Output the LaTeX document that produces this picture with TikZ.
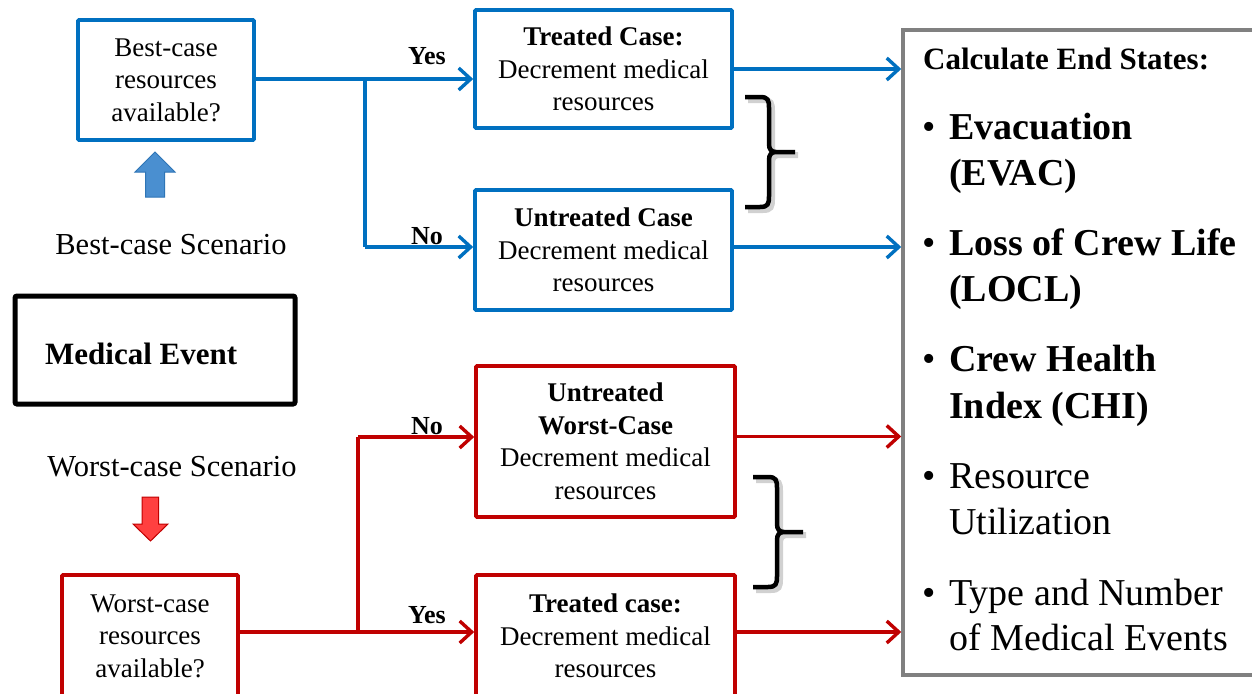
\documentclass[tikz,border=0pt]{standalone}
\usepackage{fontspec}
\setmainfont{Liberation Serif}
\usetikzlibrary{arrows.meta,calc}
\definecolor{cblue}{RGB}{0,112,192}
\definecolor{cred}{RGB}{192,0,0}
\definecolor{cgray}{RGB}{128,128,128}
\definecolor{afillb}{RGB}{74,143,208}
\definecolor{adrawb}{RGB}{46,117,182}
\definecolor{afillr}{RGB}{255,64,64}
\begin{document}
\begin{tikzpicture}[x=1pt,y=-1pt,
  boxtext/.style={font=\fontsize{27pt}{32.5pt}\selectfont, align=center, inner sep=0pt},
  bbox/.style={boxtext, draw=cblue, line width=3.6pt, rounded corners=1pt},
  rbox/.style={boxtext, draw=cred, line width=3.6pt, rounded corners=1pt},
  bline/.style={draw=cblue, line width=3.4pt},
  rline/.style={draw=cred, line width=3.4pt},
  tip/.style={-{Straight Barb[length=12pt,width=22pt]}},
  yn/.style={font=\bfseries\fontsize{26pt}{30pt}\selectfont, inner sep=0pt},
  scen/.style={font=\fontsize{30.5pt}{36pt}\selectfont, inner sep=0pt},
  itemline/.style={anchor=base west, inner sep=0pt, font=\fontsize{38pt}{46pt}\selectfont},
  itembold/.style={itemline, font=\bfseries\fontsize{38pt}{46pt}\selectfont},
  curly/.pic={
    \draw[line width=6pt, black!40, opacity=.45, shift={(3,3)}]
      (0,0) -- (15,0) .. controls (23,0) and (24,3) .. (24,11) -- (24,47)
      .. controls (24,52) and (26,55) .. (31,55) -- (50,55)
      (0,110) -- (15,110) .. controls (23,110) and (24,107) .. (24,99) -- (24,63)
      .. controls (24,58) and (26,55) .. (31,55);
    \draw[line width=4.5pt, black]
      (0,0) -- (15,0) .. controls (23,0) and (24,3) .. (24,11) -- (24,47)
      .. controls (24,52) and (26,55) .. (31,55) -- (50,55)
      (0,110) -- (15,110) .. controls (23,110) and (24,107) .. (24,99) -- (24,63)
      .. controls (24,58) and (26,55) .. (31,55);
  }
]
\useasboundingbox (0,0) rectangle (1252,693);
\fill[white] (0,0) rectangle (1252,693);

% boxes
\node[bbox, minimum width=176pt, minimum height=120pt] (best) at (166,80) {Best-case\\resources\\available?};
\node[bbox, minimum width=257pt, minimum height=118pt] (treatedB) at (603.5,69) {\textbf{Treated Case:}\\Decrement medical\\resources};
\node[bbox, minimum width=257pt, minimum height=120pt] (untreatedB) at (603.5,250) {\textbf{Untreated Case}\\Decrement medical\\resources};
\node[rbox, minimum width=259pt, minimum height=151pt] (untreatedW) at (605.5,441.5) {\textbf{Untreated}\\\textbf{Worst-Case}\\Decrement medical\\resources};
\node[rbox, minimum width=259pt, minimum height=122pt] (treatedW) at (605.5,636) {\textbf{Treated case:}\\Decrement medical\\resources};
\node[rbox, minimum width=176pt, minimum height=122pt] (worst) at (150,636) {Worst-case\\resources\\available?};
\node[draw=black, line width=5pt, rounded corners=2pt, minimum width=280pt, minimum height=108pt] (medical) at (155,350) {};
\node[anchor=base west, inner sep=0pt, font=\bfseries\fontsize{31pt}{36pt}\selectfont] (medtext) at (45,364) {Medical Event};

% scenario labels
\node[scen] (bsc) at (171,245) {Best-case Scenario};
\node[scen] (wsc) at (172,467) {Worst-case Scenario};

% block arrows
\draw[draw=adrawb, fill=afillb, line width=1pt] (145.5,197) -- (145.5,172) -- (135,172) -- (155,152) -- (175,172) -- (164.5,172) -- (164.5,197) -- cycle;
\draw[draw=cred, fill=afillr, line width=1pt] (142,497) -- (158.5,497) -- (158.5,524) -- (168,524) -- (150.5,541) -- (133,524) -- (142,524) -- cycle;

% end state box
\node[draw=cgray, line width=3.5pt, minimum width=380pt, minimum height=645pt, inner sep=0pt] (endbox) at (1093,352.5) {};
\node[anchor=base west, inner sep=0pt, font=\bfseries\fontsize{31pt}{36pt}\selectfont] (title) at (923,70) {Calculate End States:};
\node[itemline] (d1) at (922,139) {•};
\node[itembold] (i1a) at (949,139) {Evacuation};
\node[itembold] (i1b) at (949,185) {(EVAC)};
\node[itemline] (d2) at (922,255) {•};
\node[itembold] (i2a) at (949,255) {Loss of Crew Life};
\node[itembold] (i2b) at (949,301) {(LOCL)};
\node[itemline] (d3) at (922,371) {•};
\node[itembold] (i3a) at (949,371) {Crew Health};
\node[itembold] (i3b) at (949,418) {Index (CHI)};
\node[itemline] (d4) at (922,488) {•};
\node[itemline] (i4a) at (949,488) {Resource};
\node[itemline] (i4b) at (949,534) {Utilization};
\node[itemline] (d5) at (922,605) {•};
\node[itemline] (i5a) at (949,605) {Type and Number};
\node[itemline] (i5b) at (949,650) {of Medical Events};

% blue connectors
\coordinate (jb) at (365,79);
\coordinate (jb2) at (365,247);
\draw[bline] (best.east |- jb) -- (jb) -- (jb2);
\draw[bline,tip] (jb) -- (jb -| treatedB.west);
\draw[bline,tip] (jb2) -- (jb2 -| untreatedB.west);
\node[yn] (yesB) at (427,56) {Yes};
\node[yn] (noB) at (427,236) {No};

% red connectors
\coordinate (jr) at (358,632);
\coordinate (jr2) at (358,437);
\draw[rline] (jr -| worst.east) -- (jr) -- (jr2);
\draw[rline,tip] (jr2) -- (jr2 -| untreatedW.west);
\draw[rline,tip] (jr) -- (jr -| treatedW.west);
\node[yn] (noR) at (427,426) {No};
\node[yn] (yesR) at (427,615) {Yes};

% to end states
\coordinate (oTB) at (treatedB.east);
\coordinate (oUB) at ([yshift=3pt]untreatedB.east);
\coordinate (oUW) at ([yshift=5pt]untreatedW.east);
\coordinate (oTW) at ([yshift=4pt]treatedW.east);
\draw[bline,tip] (oTB) -- (oTB -| endbox.west);
\draw[bline,tip] (oUB) -- (oUB -| endbox.west);
\draw[rline,tip] (oUW) -- (oUW -| endbox.west);
\draw[rline,tip] (oTW) -- (oTW -| endbox.west);

% braces
\pic at (745,97) {curly};
\pic at (753,477) {curly};
\end{tikzpicture}
\end{document}
